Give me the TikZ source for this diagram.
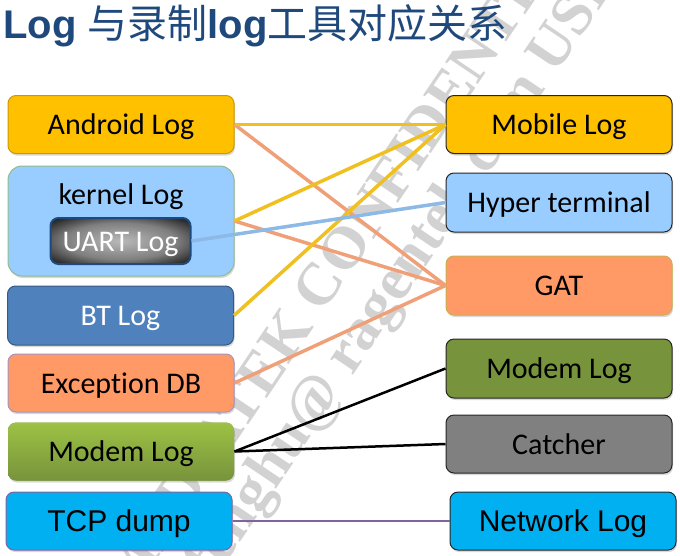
\documentclass[tikz,border=0pt]{standalone}
\usepackage{fontspec}
\setmainfont{Carlito}[Ligatures=NoCommon]
\newfontfamily\cjk{Noto Sans CJK SC}
\newfontfamily\arialfont{Liberation Sans}
\newfontfamily\markfont{Liberation Serif}
\usetikzlibrary{shadows}
\definecolor{titleblue}{HTML}{1F497D}
\definecolor{logyellow}{HTML}{FFC000}
\definecolor{linkyellow}{HTML}{F0C020}
\definecolor{logblue}{HTML}{99CCFF}
\definecolor{linkblue}{HTML}{8DB9E6}
\definecolor{btblue}{HTML}{4F81BD}
\definecolor{logorange}{HTML}{FF9966}
\definecolor{linkorange}{HTML}{F0A078}
\definecolor{lightgreen}{HTML}{9DC244}
\definecolor{darkgreen}{HTML}{77933C}
\definecolor{netblue}{HTML}{00B0F0}
\definecolor{linkpurple}{HTML}{8064A2}
\pgfdeclareradialshading{uartglow}{\pgfpointorigin}{color(0bp)=(gray!55!white); color(20bp)=(gray); color(38bp)=(black); color(50bp)=(black)}
\tikzset{
	plainbox/.style={draw=#1!80!black,fill=#1,line width=1pt,rounded corners=8pt,minimum width=226pt,minimum height=58pt,inner sep=0pt,text height=20pt,text depth=0pt,font=\fontsize{30}{32}\selectfont},
	logbox/.style={plainbox=#1,drop shadow={shadow xshift=1pt,shadow yshift=-2pt,opacity=0.3}},
	toolbox/.style={logbox=#1,draw=black!85},
	arialtext/.style={text height=21pt,font=\arialfont\fontsize{30}{32}\selectfont},
	link/.style={line width=3.5pt,#1},
	thinlink/.style={line width=2.5pt,#1},
	watermark/.style={gray!35,font=\markfont\bfseries\fontsize{60}{60}\selectfont,rotate=56},
}
\begin{document}
\begin{tikzpicture}[x=1pt,y=-1pt]
	\useasboundingbox (0,0) rectangle (680,555);
	\clip (0,0) rectangle (680,555);
	\node[watermark] (markone) at (341,253) {MEDIATEK CONFIDENTIAL};
	\node[watermark] (marktwo) at (405,272) {fenghu@ ragentek.com USE};
	\node[anchor=west,inner sep=0pt,text=titleblue,font=\fontsize{40}{42}\selectfont] (title) at (3,26) {\arialfont\bfseries Log \cjk\mdseries 与录制\arialfont\bfseries log\cjk\mdseries 工具对应关系};
	\node[logbox=logyellow] (android) at (121,124.5) {Android Log};
	\node[logbox=logblue,draw=green!25!gray!70,minimum height=110pt,rounded corners=14pt] (kernel) at (121,221) {};
	\node[inner sep=0pt,text height=20pt,text depth=0pt,font=\fontsize{30}{32}\selectfont] (kernellabel) at (121,194) {kernel Log};
	\node[plainbox=black,draw=titleblue,line width=2pt,minimum width=140pt,minimum height=46pt,shading=uartglow,text=white] (uart) at (120.5,241) {UART Log};
	\node[logbox=btblue,text=white,minimum height=59pt,draw=btblue!70!black] (bt) at (120.5,315.5) {BT Log};
	\node[logbox=logorange,draw=linkpurple!70] (exception) at (121,383) {Exception DB};
	\node[logbox=darkgreen,top color=lightgreen,bottom color=darkgreen,draw=none] (modem) at (121,451.5) {Modem Log};
	\node[logbox=netblue,draw=linkpurple,arialtext] (tcp) at (119,521) {TCP dump};
	\node[toolbox=logyellow] (mobile) at (559,124.5) {Mobile Log};
	\node[toolbox=logblue,minimum height=59pt] (hyper) at (559,202.5) {Hyper terminal};
	\node[logbox=logorange,draw=logorange!80!green,minimum height=59pt] (gat) at (559,285.5) {GAT};
	\node[toolbox=darkgreen,minimum height=59pt] (modemtool) at (559,368.5) {Modem Log};
	\node[toolbox=gray] (catcher) at (559,444) {Catcher};
	\node[toolbox=netblue,arialtext] (network) at (563,521) {Network Log};
	\draw[link=linkorange] (android.east) -- (gat.west);
	\draw[link=linkorange] (kernel.east) -- (gat.west);
	\draw[link=linkorange] (exception.east) -- (gat.west);
	\draw[link=linkyellow] (android.east) -- (mobile.west);
	\draw[link=linkyellow] (kernel.east) -- (mobile.west);
	\draw[link=linkyellow] (bt.east) -- (mobile.west);
	\draw[link=linkblue] (uart.east) -- (hyper.west);
	\draw[thinlink=black] (modem.east) -- (modemtool.west);
	\draw[thinlink=black] (modem.east) -- (catcher.west);
	\draw[thinlink=linkpurple] (tcp.east) -- (network.west);
\end{tikzpicture}
\end{document}
